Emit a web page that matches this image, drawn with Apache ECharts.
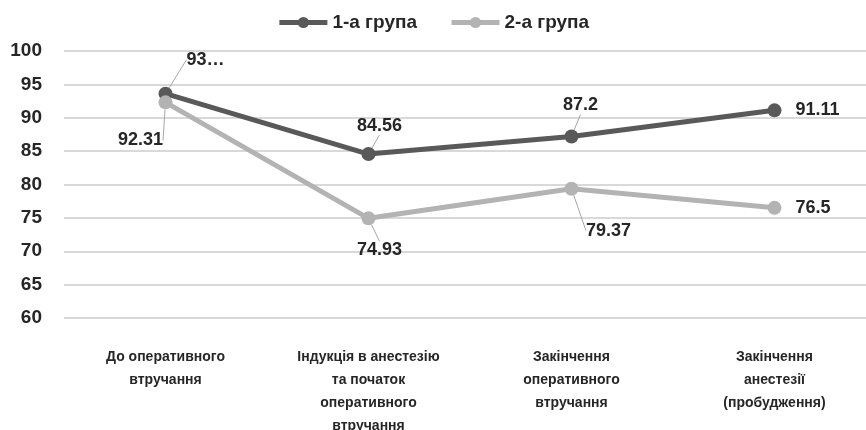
<!DOCTYPE html>
<html>
<head>
<meta charset="utf-8">
<script src="https://cdn.jsdelivr.net/npm/echarts@6/dist/echarts.min.js"></script>
<style>
  html, body { margin: 0; padding: 0; background: #fff; }
  #chart { width: 866px; height: 430px; }
</style>
</head>
<body>
<div id="chart"></div>
<script>
const categories = [
  'До оперативного\nвтручання',
  'Індукція в анестезію\nта початок\nоперативного\nвтручання',
  'Закінчення\nоперативного\nвтручання',
  'Закінчення\nанестезії\n(пробудження)'
]
const group1 = [93.6, 84.56, 87.2, 91.11]
const group2 = [92.31, 74.93, 79.37, 76.5]
const seriesNames = ['1-а група', '2-а група']

// label offsets from the point (callout style like the original)
const offsets1 = [[40, -34], [11, -28], [9, -31], null]
const offsets2 = [[-25, 38], [11, 32], [37, 42], null]

const chart = echarts.init(document.getElementById('chart'))

function buildData(values, offsets, firstText) {
  return values.map((v, i) => {
    const item = { value: v }
    if (!offsets[i]) {
      item.label = { position: 'right', distance: 14 }
      item.labelLine = { show: false }
    }
    if (i === 0 && firstText) {
      item.label = Object.assign(item.label || {}, { formatter: firstText })
    }
    return item
  })
}

function layoutFor(offsets) {
  return function (params) {
    const o = offsets[params.dataIndex]
    if (!o) return {}
    return { dx: o[0], dy: o[1] }
  }
}

const font = 'Liberation Sans, Arial, sans-serif'

const labelStyle = {
  show: true,
  position: 'inside',
  color: '#262626',
  fontSize: 18,
  fontWeight: 'bold',
  fontFamily: font
}

const option = {
  animation: false,
  textStyle: { fontFamily: font },
  legend: {
    top: 8,
    left: 'center',
    itemWidth: 48,
    itemHeight: 14,
    itemGap: 32,
    lineStyle: { width: 5 },
    textStyle: { fontSize: 19, fontWeight: 'bold', color: '#262626', fontFamily: font },
    data: seriesNames
  },
  grid: { left: 64, top: 51, width: 812, bottom: 112, containLabel: false, outerBoundsMode: 'none' },
  xAxis: {
    type: 'category',
    data: categories,
    boundaryGap: true,
    axisLine: { show: false },
    axisTick: { show: false },
    axisLabel: {
      interval: 0,
      margin: 28,
      fontSize: 14,
      fontWeight: 'bold',
      color: '#262626',
      lineHeight: 23,
      fontFamily: font
    }
  },
  yAxis: {
    type: 'value',
    min: 60,
    max: 100,
    interval: 5,
    axisLine: { show: false },
    axisTick: { show: false },
    axisLabel: { margin: 22, fontSize: 19, fontWeight: 'bold', color: '#262626', fontFamily: font },
    splitLine: { lineStyle: { color: '#d9d9d9', width: 2 } }
  },
  series: [
    {
      name: seriesNames[0],
      type: 'line',
      data: buildData(group1, offsets1, '93…'),
      symbol: 'circle',
      symbolSize: 14,
      color: '#595959',
      lineStyle: { width: 5, color: '#595959' },
      itemStyle: { color: '#595959' },
      label: labelStyle,
      labelLine: { show: true, lineStyle: { color: '#a6a6a6', width: 1 } },
      labelLayout: layoutFor(offsets1),
      z: 3
    },
    {
      name: seriesNames[1],
      type: 'line',
      data: buildData(group2, offsets2),
      symbol: 'circle',
      symbolSize: 14,
      color: '#b3b3b3',
      lineStyle: { width: 5, color: '#b3b3b3' },
      itemStyle: { color: '#b3b3b3' },
      label: labelStyle,
      labelLine: { show: true, lineStyle: { color: '#a6a6a6', width: 1 } },
      labelLayout: layoutFor(offsets2),
      z: 4
    }
  ]
}

chart.setOption(option)
</script>
</body>
</html>
